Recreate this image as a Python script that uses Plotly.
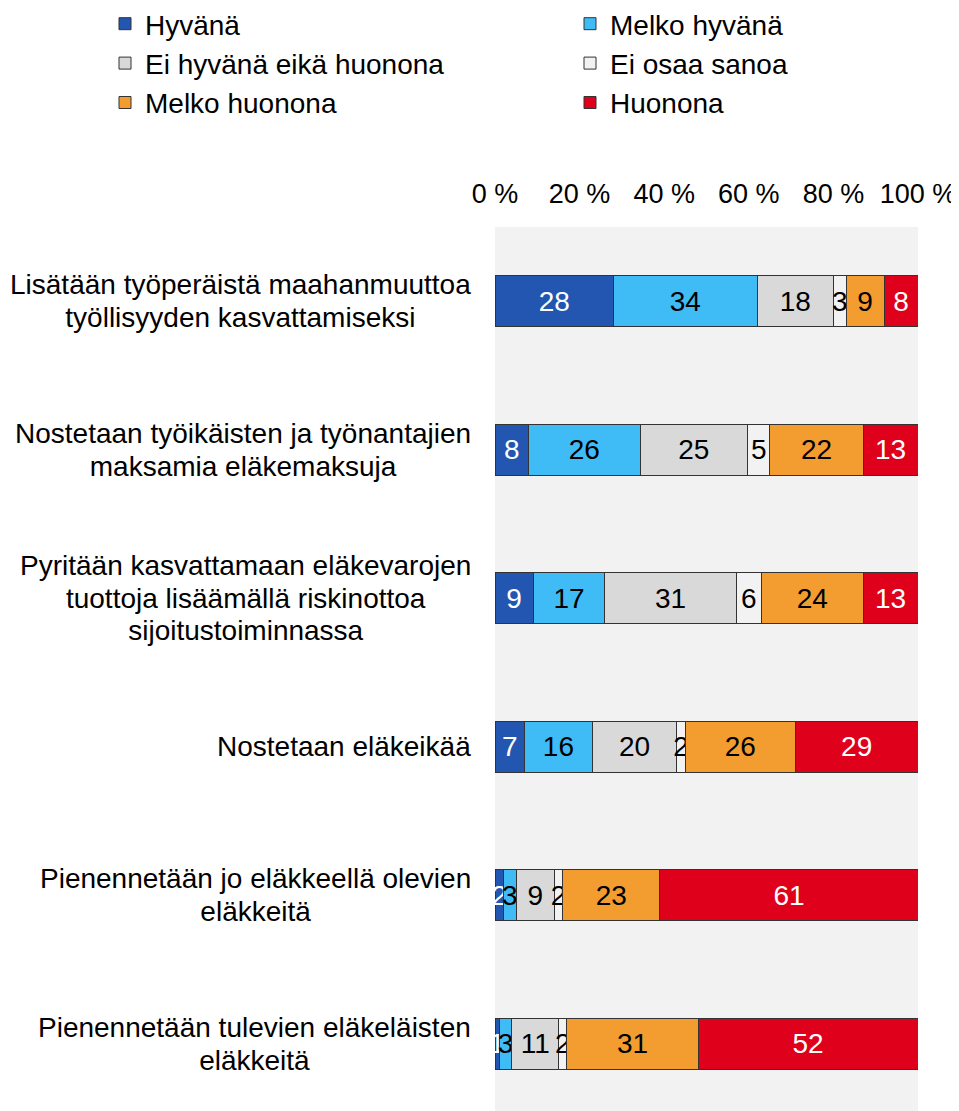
import plotly.graph_objects as go

categories = [
    "Lisätään työperäistä maahanmuuttoa<br>työllisyyden kasvattamiseksi",
    "Nostetaan työikäisten ja työnantajien<br>maksamia eläkemaksuja",
    "Pyritään kasvattamaan eläkevarojen<br>tuottoja lisäämällä riskinottoa<br>sijoitustoiminnassa",
    "Nostetaan eläkeikää",
    "Pienennetään jo eläkkeellä olevien<br>eläkkeitä",
    "Pienennetään tulevien eläkeläisten<br>eläkkeitä",
]

series_names = ["Hyvänä", "Melko hyvänä", "Ei hyvänä eikä huonona",
                "Ei osaa sanoa", "Melko huonona", "Huonona"]

hyvana = [28, 7.9, 9, 7, 2, 1]
melko_hyvana = [34, 26.4, 17, 16, 3, 3]
ei_hyvana_eika_huonona = [18, 25.4, 31, 20, 9, 11]
ei_osaa_sanoa = [3, 5.3, 6, 2, 2, 2]
melko_huonona = [9, 22.0, 24, 26, 23, 31]
huonona = [8, 13.0, 13, 29, 61, 52]

values = [hyvana, melko_hyvana, ei_hyvana_eika_huonona,
          ei_osaa_sanoa, melko_huonona, huonona]
colors = ["#2356b0", "#3fbbf5", "#d9d9d9", "#f2f2f2", "#f39c30", "#df001c"]
text_colors = ["white", "black", "black", "black", "black", "white"]
legend_ids = ["legend", "legend2", "legend", "legend2", "legend", "legend2"]

tick_vals = [0, 20, 40, 60, 80, 100]
tick_text = ["0 %", "20 %", "40 %", "60 %", "80 %", "100 %"]

FONT = "Liberation Sans, Arial, sans-serif"
FS = 28

fig = go.Figure()
for name, vals, col, tcol, lg in zip(series_names, values, colors, text_colors, legend_ids):
    fig.add_trace(go.Bar(
        y=categories, x=vals, name=name, orientation="h",
        marker=dict(color=col, line=dict(color="#333333", width=1)),
        width=0.345,
        text=vals, texttemplate="%{x:.0f}", textposition="inside",
        insidetextanchor="middle", textangle=0,
        textfont=dict(color=tcol, size=FS, family=FONT),
        cliponaxis=False, legend=lg, hoverinfo="skip",
    ))

for c in categories:
    label = "<br>".join(f"<span style='font-size:{FS}px'>{ln}</span>" for ln in c.split("<br>"))
    fig.add_annotation(
        x=0, xref="paper", y=c, yref="y", text=label, showarrow=False,
        xanchor="right", yanchor="middle", align="center", xshift=-22,
        font=dict(size=25, family=FONT, color="black"),
    )

legend_common = dict(
    orientation="v", xref="container", yref="paper",
    yanchor="top", xanchor="left", bgcolor="rgba(0,0,0,0)",
    font=dict(size=FS, family=FONT, color="black"),
    traceorder="normal", itemclick=False, itemdoubleclick=False,
    tracegroupgap=0,
)

PLOT_H = 1103 - 219

fig.update_layout(
    width=951, height=1103,
    margin=dict(l=487, r=41, t=219, b=0, pad=0, autoexpand=False),
    barmode="stack",
    plot_bgcolor="#f2f2f2",
    paper_bgcolor="white",
    font=dict(family=FONT, size=FS, color="black"),
    uniformtext=dict(minsize=FS, mode="show"),
    showlegend=True,
    legend=dict(x=97 / 951, y=1 + 228 / PLOT_H, **legend_common),
    legend2=dict(x=562 / 951, y=1 + 228 / PLOT_H, **legend_common),
    xaxis=dict(
        range=[0, 100], side="top", tickmode="array",
        tickvals=tick_vals, ticktext=tick_text,
        showgrid=False, zeroline=False, showline=False, ticks="",
        ticklabelstandoff=18, ticklabeloverflow="allow",
        tickfont=dict(size=27, family=FONT, color="black"),
        fixedrange=True,
    ),
    yaxis=dict(
        range=[5.453, -0.5], showticklabels=False, showgrid=False,
        zeroline=False, showline=False, ticks="", fixedrange=True,
    ),
)

fig.write_html("out.html")
